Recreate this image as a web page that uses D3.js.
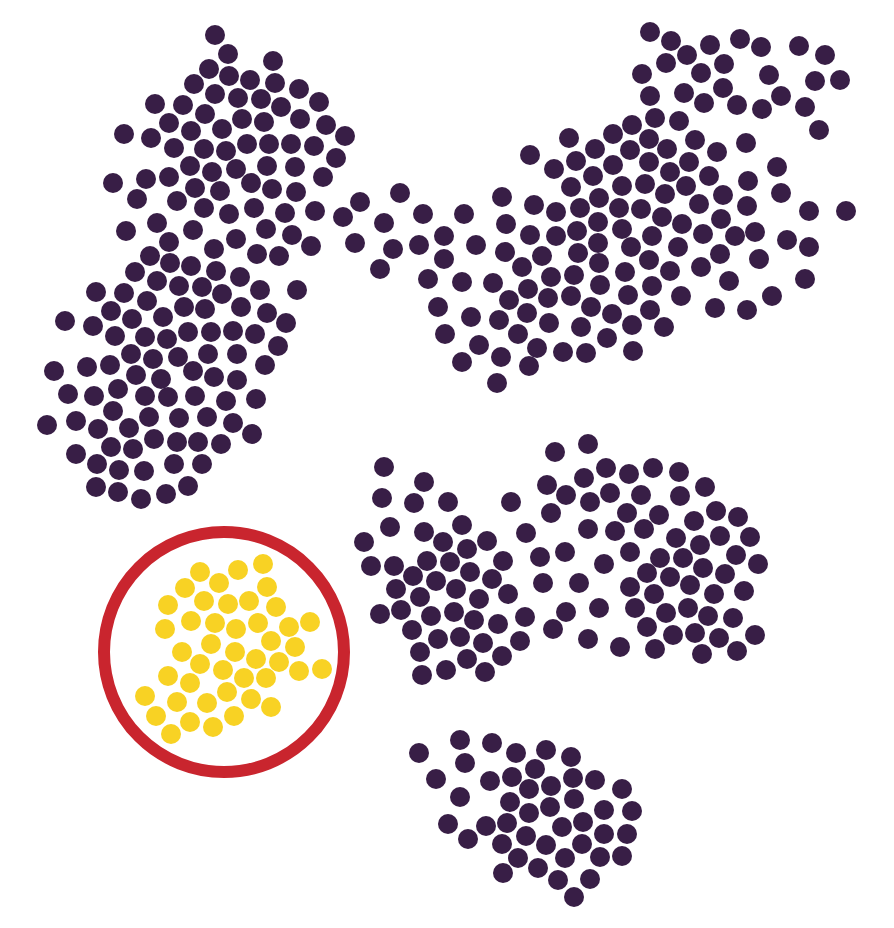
<!DOCTYPE html>
<html><head><meta charset="utf-8">
<script src="https://cdn.jsdelivr.net/npm/d3@7"></script>
<style>html,body{margin:0;padding:0;background:#fff;}svg{display:block;}</style>
</head><body>
<svg id="chart" width="894" height="928"></svg>
<script>
// Embedding coordinates of each point, grouped by cluster
const clusterA = [[215,35],[228,54],[273,61],[209,69],[229,76],[250,80],[194,84],[275,83],[299,89],[215,94],[238,98],[261,99],[155,104],[183,105],[281,107],[319,102],[205,114],[169,123],[242,119],[264,122],[300,119],[326,125],[124,134],[151,138],[191,131],[222,129],[345,136],[174,148],[204,149],[226,151],[247,144],[269,144],[291,144],[314,146],[336,158],[190,166],[212,172],[236,169],[267,166],[295,167],[323,177],[113,183],[146,179],[169,177],[195,188],[220,191],[251,183],[272,189],[296,192],[137,199],[177,201],[204,208],[229,214],[254,208],[285,213],[315,211],[343,217],[126,231],[157,223],[193,230],[236,239],[266,229],[292,235],[311,246],[169,242],[214,249],[257,254],[279,256],[150,256],
[170,263],[191,266],[216,271],[135,272],[157,281],[179,286],[202,287],[240,277],[96,292],[124,293],[222,294],[260,290],[297,290],[147,301],[184,307],[205,309],[241,307],[111,311],[132,319],[163,317],[267,313],[286,323],[65,321],[93,326],[115,336],[145,337],[167,339],[188,332],[211,332],[233,331],[255,334],[278,346],[131,354],[153,359],[178,357],[208,354],[237,354],[265,365],[54,371],[87,367],[110,365],[136,375],[161,379],[193,371],[214,377],[237,380],[68,394],[94,396],[118,389],[145,396],[168,397],[195,396],[226,401],[256,399],[47,425],[76,421],[98,429],[113,411],[129,428],[149,417],[179,418],[207,417],[233,423],[252,434],[76,454],[97,464],[111,447],[133,449],[154,439],[177,442],[198,442],[221,444],[119,470],[144,471],[174,464],[202,464],[96,487],[118,492],[141,499],[166,494],[188,486]];

const clusterB = [[360,202],[400,193],[384,223],[423,214],[464,214],[355,243],[393,249],[419,245],[444,236],[476,245],[380,269],[444,259],[428,279],[462,282],[493,283],[438,307],[471,317],[499,320],[445,334],[479,345],[462,362],[501,357],[497,383],
[569,138],[595,149],[530,155],[554,169],[576,161],[593,176],[571,187],[599,198],[502,197],[534,205],[556,212],[580,208],[598,222],[506,224],[530,235],[556,236],[577,231],[598,243],[505,252],[542,256],[578,253],[599,263],[522,267],[551,277],[574,275],[600,285],[528,289],[509,300],[548,298],[571,296],[591,307],[527,313],[549,323],[581,327],[518,334],[537,348],[563,352],[586,353],[529,366],
[650,32],[671,41],[710,45],[740,39],[761,47],[799,46],[825,55],[666,63],[687,55],[724,64],[642,74],[701,73],[769,75],[815,81],[840,80],[650,96],[684,93],[723,88],[704,103],[737,105],[762,109],[781,96],[805,107],[819,130],[655,118],[679,121],[632,125],[613,134],[649,139],[695,140],[717,152],[746,143],[630,150],[667,149],[613,165],[649,162],[689,162],[670,172],[777,167],[709,176],[748,181],[622,186],[645,184],[686,186],[665,194],[781,193],[723,195],[619,208],[641,209],[699,204],[747,206],[809,211],[846,211],[662,217],[682,224],[721,219],[622,229],[652,236],[703,234],[735,236],[755,232],[787,240],[809,247],[631,247],[678,247],[720,254],[759,259],[649,260],[670,271],[701,267],[625,272],[729,281],[805,279],[628,295],[652,286],[681,296],[772,296],[715,308],[747,310],[612,314],[650,310],[632,325],[664,327],[607,338],[633,351]];

const clusterC = [[384,467],[424,482],[382,498],[414,503],[448,502],[511,502],[390,527],[424,532],[462,525],[364,542],[443,542],[467,549],[487,541],[526,533],[371,566],[394,566],[427,561],[450,562],[503,561],[413,576],[436,581],[470,572],[492,579],[396,589],[456,589],[420,597],[479,599],[508,594],[380,614],[401,610],[431,616],[454,612],[474,620],[498,624],[525,617],[412,630],[438,639],[460,637],[483,643],[520,641],[420,652],[467,659],[502,656],[422,675],[446,670],[485,672],
[555,452],[588,444],[547,485],[566,495],[584,478],[606,468],[590,502],[610,493],[551,513],[588,529],[540,557],[565,552],[604,564],[543,583],[579,583],[566,612],[599,608],[553,629],[588,639],[620,647],
[629,474],[653,468],[679,472],[705,487],[641,495],[680,496],[627,513],[659,515],[694,521],[716,511],[738,517],[615,531],[644,529],[676,538],[700,545],[720,536],[750,537],[630,552],[660,558],[683,558],[703,568],[736,555],[758,564],[647,573],[670,577],[690,585],[725,574],[630,587],[654,594],[714,594],[744,591],[635,608],[666,613],[688,608],[708,616],[733,618],[647,627],[673,635],[695,633],[719,638],[755,635],[655,649],[702,654],[737,651]];

const clusterD = [[419,753],[460,740],[492,743],[516,753],[546,750],[571,757],[465,763],[535,769],[436,779],[490,781],[512,777],[529,789],[551,786],[573,778],[595,780],[622,789],[460,797],[510,802],[529,813],[550,807],[574,799],[604,810],[632,811],[448,824],[486,826],[507,823],[562,827],[583,822],[604,834],[627,834],[468,839],[502,844],[526,836],[546,845],[582,844],[518,858],[565,858],[600,857],[622,856],[503,873],[538,868],[558,880],[590,879],[574,897]];

// Highlighted cluster
const highlighted = [[200,572],[238,570],[263,564],[185,588],[219,583],[267,587],[168,605],[204,601],[228,604],[249,601],[276,607],[165,629],[191,621],[215,623],[236,629],[258,623],[289,627],[310,622],[182,652],[211,644],[235,652],[271,641],[295,647],[200,664],[223,670],[256,659],[279,662],[299,671],[322,669],[168,676],[190,683],[244,678],[266,678],[145,696],[177,702],[207,703],[227,692],[251,699],[271,707],[156,716],[190,722],[213,727],[234,716],[171,734]];

const ringCenter = [224, 652];
const ringRadius = 120;

const W = 894, H = 928;
const x = d3.scaleLinear().domain([0, 894]).range([0, W]);
const y = d3.scaleLinear().domain([0, 928]).range([0, H]);

const svg = d3.select("#chart");
const R = 10;
const purple = "#381e46", yellow = "#f8d224", red = "#c9252e";

const others = [].concat(clusterA, clusterB, clusterC, clusterD);
svg.append("g").selectAll("circle").data(others).join("circle")
  .attr("cx", d => x(d[0])).attr("cy", d => y(d[1])).attr("r", R).attr("fill", purple);

svg.append("circle")
  .attr("cx", x(ringCenter[0])).attr("cy", y(ringCenter[1]))
  .attr("r", x(ringRadius) - x(0))
  .attr("fill", "none").attr("stroke", red).attr("stroke-width", 12);

svg.append("g").selectAll("circle").data(highlighted).join("circle")
  .attr("cx", d => x(d[0])).attr("cy", d => y(d[1])).attr("r", R).attr("fill", yellow);
</script>
</body></html>
